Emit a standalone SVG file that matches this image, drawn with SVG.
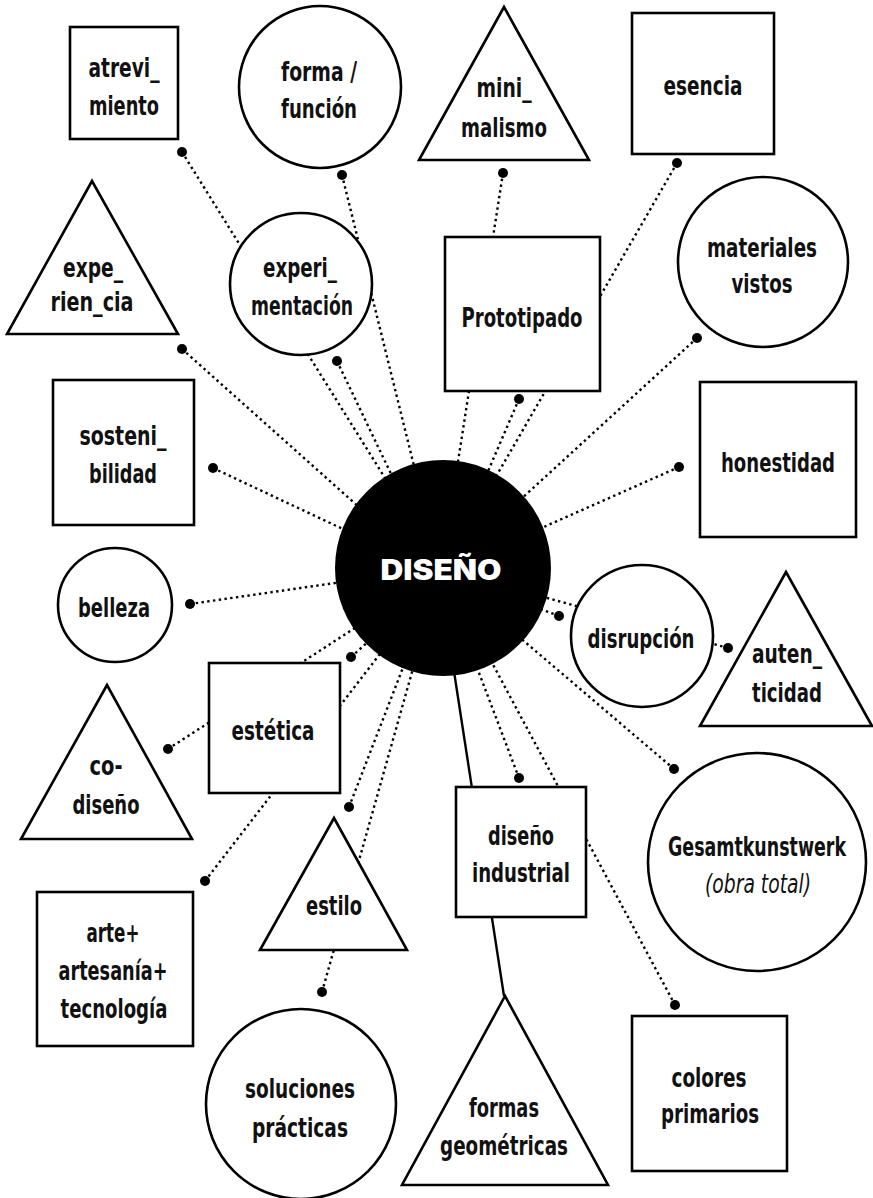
<svg xmlns="http://www.w3.org/2000/svg" width="873" height="1198" viewBox="0 0 873 1198">
<style>
.s{fill:#fff;stroke:#000;stroke-width:2.6}
.t{font-family:"DejaVu Sans Condensed","DejaVu Sans",sans-serif;font-weight:bold;font-size:27px;fill:#111;text-anchor:middle}
.i{font-family:"DejaVu Sans Condensed","DejaVu Sans",sans-serif;font-style:italic;font-weight:normal;font-size:27px;fill:#111;text-anchor:middle}
.d{stroke:#000;stroke-width:2.4;stroke-dasharray:2.4 3.4;fill:none}
.l{stroke:#000;stroke-width:2.4;fill:none}
.dot{fill:#000}
</style>
<rect width="873" height="1198" fill="#fff"/>
<g id="connectors">
<line class="d" x1="182" y1="152" x2="385" y2="478"/>
<line class="d" x1="342" y1="175" x2="415" y2="470"/>
<line class="d" x1="337" y1="361" x2="393" y2="478"/>
<line class="d" x1="182" y1="349" x2="360" y2="508"/>
<line class="d" x1="213" y1="468" x2="345" y2="530"/>
<line class="d" x1="190" y1="604" x2="342" y2="582"/>
<line class="d" x1="503" y1="173" x2="457" y2="468"/>
<line class="d" x1="519" y1="399" x2="486" y2="476"/>
<line class="d" x1="677" y1="163" x2="494" y2="480"/>
<line class="d" x1="697" y1="338" x2="520" y2="500"/>
<line class="d" x1="679" y1="467" x2="537" y2="530"/>
<line class="d" x1="728" y1="648" x2="540" y2="596"/>
<line class="d" x1="559" y1="616" x2="535" y2="607"/>
<line class="d" x1="674" y1="769" x2="518" y2="636"/>
<line class="d" x1="675" y1="1005" x2="490" y2="659"/>
<line class="d" x1="519" y1="778" x2="476" y2="665"/>
<line class="l" x1="504" y1="996" x2="453" y2="665"/>
<line class="d" x1="322" y1="992" x2="414" y2="665"/>
<line class="d" x1="349" y1="807" x2="404" y2="665"/>
<line class="d" x1="205" y1="881" x2="383" y2="650"/>
<line class="d" x1="351" y1="657" x2="370" y2="640"/>
<line class="d" x1="168" y1="749" x2="358" y2="626"/>
</g>
<g id="n-atrevimiento"><rect class="s" x="70" y="27" width="108" height="112"/><text class="t" x="124" y="77" textLength="71" lengthAdjust="spacingAndGlyphs">atrevi_</text><text class="t" x="124" y="115" textLength="70" lengthAdjust="spacingAndGlyphs">miento</text></g>
<g id="n-forma"><circle class="s" cx="320" cy="87" r="81"/><text class="t" x="319" y="81" textLength="76" lengthAdjust="spacingAndGlyphs">forma /</text><text class="t" x="319" y="118" textLength="76" lengthAdjust="spacingAndGlyphs">función</text></g>
<g id="n-minimalismo"><polygon class="s" points="504,7 419,160 589,160"/><text class="t" x="504" y="97" textLength="55" lengthAdjust="spacingAndGlyphs">mini_</text><text class="t" x="504" y="137" textLength="86" lengthAdjust="spacingAndGlyphs">malismo</text></g>
<g id="n-esencia"><rect class="s" x="632" y="13" width="142" height="141"/><text class="t" x="703" y="95" textLength="79" lengthAdjust="spacingAndGlyphs">esencia</text></g>
<g id="n-experiencia"><polygon class="s" points="92,181 7,334 178,334"/><text class="t" x="93" y="277" textLength="60" lengthAdjust="spacingAndGlyphs">expe_</text><text class="t" x="92" y="311" textLength="83" lengthAdjust="spacingAndGlyphs">rien_cia</text></g>
<g id="n-experimentacion"><circle class="s" cx="301" cy="284" r="71"/><text class="t" x="300" y="277" textLength="74" lengthAdjust="spacingAndGlyphs">experi_</text><text class="t" x="302" y="315" textLength="102" lengthAdjust="spacingAndGlyphs">mentación</text></g>
<g id="n-prototipado"><rect class="s" x="445" y="237" width="155" height="154"/><text class="t" x="522" y="327" textLength="121" lengthAdjust="spacingAndGlyphs">Prototipado</text></g>
<g id="n-materiales"><circle class="s" cx="763" cy="262" r="85"/><text class="t" x="762" y="257" textLength="110" lengthAdjust="spacingAndGlyphs">materiales</text><text class="t" x="762" y="293" textLength="61" lengthAdjust="spacingAndGlyphs">vistos</text></g>
<g id="n-sostenibilidad"><rect class="s" x="53" y="380" width="141" height="145"/><text class="t" x="123" y="445" textLength="87" lengthAdjust="spacingAndGlyphs">sosteni_</text><text class="t" x="123" y="483" textLength="68" lengthAdjust="spacingAndGlyphs">bilidad</text></g>
<g id="n-honestidad"><rect class="s" x="700" y="382" width="156" height="155"/><text class="t" x="778" y="472" textLength="114" lengthAdjust="spacingAndGlyphs">honestidad</text></g>
<g id="n-belleza"><circle class="s" cx="115" cy="605" r="57"/><text class="t" x="114" y="617" textLength="72" lengthAdjust="spacingAndGlyphs">belleza</text></g>
<g id="n-disrupcion"><circle class="s" cx="642" cy="636" r="71"/><text class="t" x="641" y="648" textLength="107" lengthAdjust="spacingAndGlyphs">disrupción</text></g>
<g id="n-autenticidad"><polygon class="s" points="786,572 700,726 872,726"/><text class="t" x="787" y="663" textLength="70" lengthAdjust="spacingAndGlyphs">auten_</text><text class="t" x="787" y="702" textLength="70" lengthAdjust="spacingAndGlyphs">ticidad</text></g>
<g id="n-estetica"><rect class="s" x="209" y="663" width="131" height="130"/><text class="t" x="273" y="740" textLength="83" lengthAdjust="spacingAndGlyphs">estética</text></g>
<g id="n-codiseno"><polygon class="s" points="107,685 21,839 192,839"/><text class="t" x="106" y="775" textLength="33" lengthAdjust="spacingAndGlyphs">co-</text><text class="t" x="106" y="814" textLength="67" lengthAdjust="spacingAndGlyphs">diseño</text></g>
<g id="n-industrial"><rect class="s" x="456" y="787" width="130" height="130"/><text class="t" x="521" y="845" textLength="66" lengthAdjust="spacingAndGlyphs">diseño</text><text class="t" x="521" y="882" textLength="98" lengthAdjust="spacingAndGlyphs">industrial</text></g>
<g id="n-gesamt"><circle class="s" cx="757" cy="862" r="109"/><text class="t" x="757" y="856" textLength="178" lengthAdjust="spacingAndGlyphs">Gesamtkunstwerk</text><text class="i" x="758" y="893" textLength="106" lengthAdjust="spacingAndGlyphs">(obra total)</text></g>
<g id="n-estilo"><polygon class="s" points="334,818 260,950 407,950"/><text class="t" x="334" y="915" textLength="56" lengthAdjust="spacingAndGlyphs">estilo</text></g>
<g id="n-arte"><rect class="s" x="37" y="892" width="156" height="154"/><text class="t" x="113" y="942" textLength="53" lengthAdjust="spacingAndGlyphs">arte+</text><text class="t" x="113" y="980" textLength="109" lengthAdjust="spacingAndGlyphs">artesanía+</text><text class="t" x="114" y="1018" textLength="107" lengthAdjust="spacingAndGlyphs">tecnología</text></g>
<g id="n-soluciones"><circle class="s" cx="301" cy="1104" r="95"/><text class="t" x="300" y="1098" textLength="110" lengthAdjust="spacingAndGlyphs">soluciones</text><text class="t" x="300" y="1137" textLength="96" lengthAdjust="spacingAndGlyphs">prácticas</text></g>
<g id="n-formas"><polygon class="s" points="505,996 402,1185 608,1185"/><text class="t" x="504" y="1117" textLength="70" lengthAdjust="spacingAndGlyphs">formas</text><text class="t" x="504" y="1155" textLength="128" lengthAdjust="spacingAndGlyphs">geométricas</text></g>
<g id="n-colores"><rect class="s" x="632" y="1016" width="155" height="155"/><text class="t" x="709" y="1087" textLength="75" lengthAdjust="spacingAndGlyphs">colores</text><text class="t" x="710" y="1123" textLength="98" lengthAdjust="spacingAndGlyphs">primarios</text></g>
<g id="n-diseno"><circle cx="443" cy="568" r="108" fill="#000"/><text x="441" y="580" textLength="121" lengthAdjust="spacingAndGlyphs" style="font-family:Inter,'DejaVu Sans',sans-serif;font-weight:900;font-size:28px;fill:#fff;text-anchor:middle">DISEÑO</text></g>
<g id="dots">
<circle class="dot" cx="182" cy="152" r="5"/>
<circle class="dot" cx="342" cy="175" r="5"/>
<circle class="dot" cx="337" cy="361" r="5"/>
<circle class="dot" cx="182" cy="349" r="5"/>
<circle class="dot" cx="213" cy="468" r="5"/>
<circle class="dot" cx="190" cy="604" r="5"/>
<circle class="dot" cx="503" cy="173" r="5"/>
<circle class="dot" cx="519" cy="399" r="5"/>
<circle class="dot" cx="677" cy="163" r="5"/>
<circle class="dot" cx="697" cy="338" r="5"/>
<circle class="dot" cx="679" cy="467" r="5"/>
<circle class="dot" cx="728" cy="648" r="5"/>
<circle class="dot" cx="559" cy="616" r="5"/>
<circle class="dot" cx="674" cy="769" r="5"/>
<circle class="dot" cx="675" cy="1005" r="5"/>
<circle class="dot" cx="519" cy="778" r="5"/>
<circle class="dot" cx="322" cy="992" r="5"/>
<circle class="dot" cx="349" cy="807" r="5"/>
<circle class="dot" cx="205" cy="881" r="5"/>
<circle class="dot" cx="351" cy="657" r="5"/>
<circle class="dot" cx="168" cy="749" r="5"/>
</g>
</svg>
